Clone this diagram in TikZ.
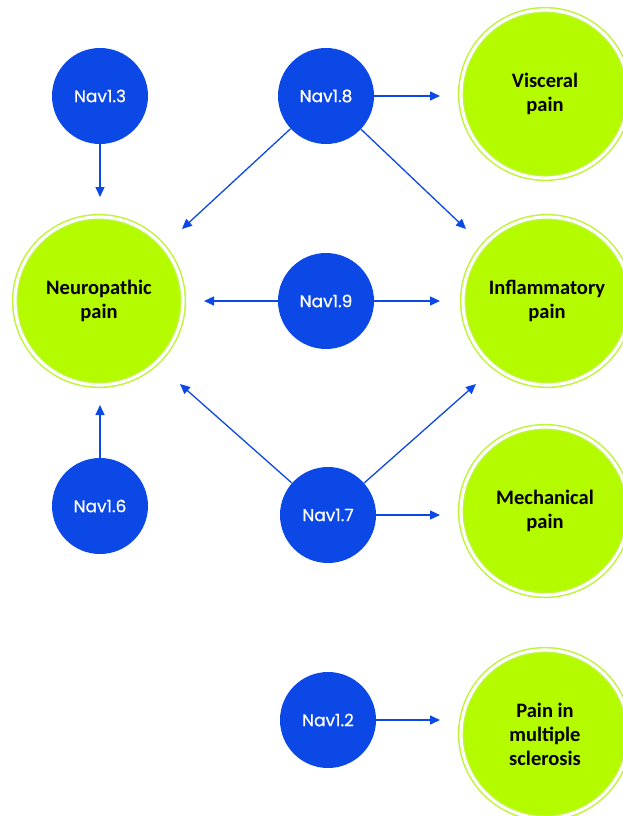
\documentclass[tikz,border=0pt]{standalone}
\usepackage{fontspec}
\setmainfont{Carlito}
\newfontfamily\navfont[FakeBold=0.6]{Poppins}
\usetikzlibrary{arrows.meta}
\definecolor{navblue}{HTML}{0B48E6}
\definecolor{lime}{HTML}{B5FB00}
\definecolor{ringlime}{HTML}{BDF53A}
\tikzset{
  nav/.style={circle, fill=navblue, minimum size=96pt, inner sep=0pt, text=white, font=\navfont\fontsize{17}{19}\selectfont},
  painc/.style={circle, fill=lime, minimum size=168pt, inner sep=0pt, align=center, font=\bfseries\fontsize{20.5}{24}\selectfont,
     draw=ringlime, line width=1.5pt, double=white, double distance=3.2pt},
  arr/.style={navblue, line width=1.3pt, -{Triangle[length=10pt,width=9pt]}},
}
\begin{document}
\begin{tikzpicture}[x=1pt,y=-1pt]
\useasboundingbox (0,0) rectangle (622,816);
% pain circles
\node[painc] (neuro) at (99,301) {Neuropathic\\pain};
\node[painc] (visc) at (545,94) {Visceral\\pain};
\node[painc] (infl) at (547,301) {Inflammatory\\pain};
\node[painc] (mech) at (545,511) {Mechanical\\pain};
\node[painc] (ms) at (545,734) {Pain in\\multiple\\sclerosis};
% nav circles
\node[nav] (n13) at (100,96) {Nav1.3};
\node[nav] (n18) at (326,96) {Nav1.8};
\node[nav] (n19) at (326,301) {Nav1.9};
\node[nav] (n16) at (100,506) {Nav1.6};
\node[nav] (n17) at (328,515) {Nav1.7};
\node[nav] (n12) at (328,720) {Nav1.2};
% arrow targets
\coordinate (t13) at (100,197);
\coordinate (t18r) at (440,96);
\coordinate (t18l) at (182,229);
\coordinate (t18d) at (466,229);
\coordinate (t19l) at (204,301);
\coordinate (t19r) at (440,301);
\coordinate (t17l) at (180,384);
\coordinate (t17u) at (476,384);
\coordinate (t17r) at (440,515);
\coordinate (t16) at (100,405);
\coordinate (t12) at (440,720);
% arrows
\draw[arr] (n13) -- (t13);
\draw[arr] (n18) -- (t18r);
\draw[arr] (n18) -- (t18l);
\draw[arr] (n18) -- (t18d);
\draw[arr] (n19) -- (t19l);
\draw[arr] (n19) -- (t19r);
\draw[arr] (n17) -- (t17l);
\draw[arr] (n17) -- (t17u);
\draw[arr] (n17) -- (t17r);
\draw[arr] (n16) -- (t16);
\draw[arr] (n12) -- (t12);
\end{tikzpicture}
\end{document}
